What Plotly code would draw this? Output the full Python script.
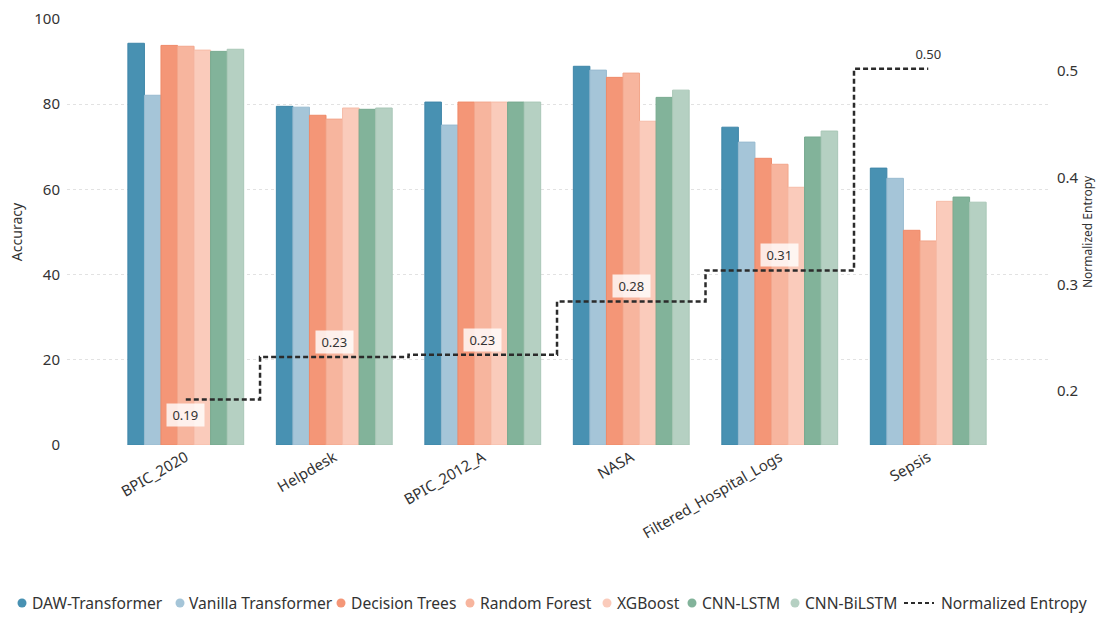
import plotly.graph_objects as go

categories = ["BPIC_2020", "Helpdesk", "BPIC_2012_A", "NASA", "Filtered_Hospital_Logs", "Sepsis"]

daw_transformer = [94.3, 79.5, 80.5, 88.9, 74.6, 65.0]
vanilla_transformer = [82.1, 79.3, 75.1, 88.0, 71.1, 62.6]
decision_trees = [93.8, 77.4, 80.5, 86.3, 67.3, 50.4]
random_forest = [93.6, 76.5, 80.5, 87.3, 65.9, 47.9]
xgboost = [92.7, 79.1, 80.5, 76.0, 60.5, 57.2]
cnn_lstm = [92.4, 78.8, 80.5, 81.6, 72.3, 58.2]
cnn_bilstm = [92.9, 79.1, 80.5, 83.3, 73.7, 57.0]

normalized_entropy = [0.192, 0.232, 0.234, 0.284, 0.313, 0.502]

series_names = ["DAW-Transformer", "Vanilla Transformer", "Decision Trees", "Random Forest",
                "XGBoost", "CNN-LSTM", "CNN-BiLSTM"]
series_values = [daw_transformer, vanilla_transformer, decision_trees, random_forest,
                 xgboost, cnn_lstm, cnn_bilstm]
series_colors = ["#4891b2", "#a5c5d8", "#f49677", "#f7b59e", "#facbbb", "#82b39a", "#b5d0c2"]
series_edges = ["#3f86a8", "#98bbd0", "#ef8a69", "#f2a68c", "#f6bca8", "#77a98f", "#a9c7b7"]
entropy_name = "Normalized Entropy"

FONT = "Noto Sans"
TXT = "#333333"

W, H = 1108, 618
ML, MR, MT, MB = 67, 58, 19, 173
PW, PH = W - ML - MR, H - MT - MB


def px_x(p):
    return (p - ML) / PW


def px_y(p):
    return (H - MB - p) / PH


fig = go.Figure()

for name, vals, col, edge in zip(series_names, series_values, series_colors, series_edges):
    fig.add_trace(go.Bar(
        x=categories, y=vals, name=name, showlegend=False,
        marker=dict(color=col, line=dict(color=edge, width=1)),
        yaxis="y",
    ))

fig.add_trace(go.Scatter(
    x=categories, y=normalized_entropy, name=entropy_name, showlegend=False,
    mode="lines", line=dict(color="#2b2b2b", width=2.5, dash="5px,3px", shape="hvh"),
    yaxis="y2",
))

for i, (c, v) in enumerate(zip(categories, normalized_entropy)):
    below = (i == 0)
    fig.add_annotation(
        x=c, y=v, xref="x", yref="y2", text="\u00a0" + f"{v:.2f}" + "\u00a0",
        showarrow=False, yshift=-15 if below else 15,
        font=dict(family=FONT, size=13, color=TXT),
        bgcolor="rgba(255,255,255,0.8)" if i < len(categories) - 1 else "rgba(0,0,0,0)",
        borderpad=2,
    )

# legend (drawn row, matching the reference's compact layout)
legend_y = 603
circle_x = [22, 180, 341, 470, 607, 692, 795]
text_x = [30, 187, 349, 478, 615, 700, 803]
for name, col, cx, tx in zip(series_names, series_colors, circle_x, text_x):
    fig.add_shape(
        type="circle", xref="paper", yref="paper",
        xsizemode="pixel", ysizemode="pixel",
        xanchor=px_x(cx), yanchor=px_y(legend_y),
        x0=-4.5, x1=4.5, y0=-4.5, y1=4.5,
        fillcolor=col, line=dict(width=0),
    )
    fig.add_annotation(
        x=px_x(tx), y=px_y(legend_y), xref="paper", yref="paper",
        text=name, showarrow=False, xanchor="left", yanchor="middle",
        font=dict(family=FONT, size=15.6, color=TXT),
    )
fig.add_shape(
    type="line", xref="paper", yref="paper",
    x0=px_x(904), x1=px_x(934), y0=px_y(legend_y), y1=px_y(legend_y),
    line=dict(color="#2b2b2b", width=2, dash="4px,3px"),
)
fig.add_annotation(
    x=px_x(939), y=px_y(legend_y), xref="paper", yref="paper",
    text=entropy_name, showarrow=False, xanchor="left", yanchor="middle",
    font=dict(family=FONT, size=15.6, color=TXT),
)

fig.update_layout(
    width=W, height=H,
    paper_bgcolor="white", plot_bgcolor="white",
    margin=dict(l=ML, r=MR, t=MT, b=MB, autoexpand=False),
    font=dict(family=FONT, size=15, color=TXT),
    barmode="group", bargap=0.22, bargroupgap=0,
    showlegend=False,
    xaxis=dict(
        type="category", range=[-0.8, 5.82], tickangle=-30, automargin=False,
        showgrid=False, showline=False, ticks="", zeroline=False,
        tickfont=dict(family=FONT, size=15, color=TXT),
    ),
    yaxis=dict(
        range=[0, 100], tickvals=[0, 20, 40, 60, 80, 100], automargin=False,
        showgrid=True, gridcolor="#e2e2e2", griddash="dot", gridwidth=1,
        zeroline=False, showline=False, ticks="", ticklabelstandoff=6,
        title=dict(text="Accuracy", font=dict(family=FONT, size=14, color=TXT), standoff=8),
        tickfont=dict(family=FONT, size=15, color=TXT),
    ),
    yaxis2=dict(
        overlaying="y", side="right", range=[0.1494, 0.5487], automargin=False,
        tickvals=[0.2, 0.3, 0.4, 0.5], ticktext=["0.2", "0.3", "0.4", "0.5"],
        showgrid=False, zeroline=False, showline=False, ticks="", ticklabelstandoff=6,
        title=dict(text="Normalized Entropy", font=dict(family=FONT, size=12, color=TXT), standoff=4),
        tickfont=dict(family=FONT, size=15, color=TXT),
    ),
)

fig.write_html("out.html", config={"displayModeBar": False},
               post_script="document.body.style.margin='0';")
